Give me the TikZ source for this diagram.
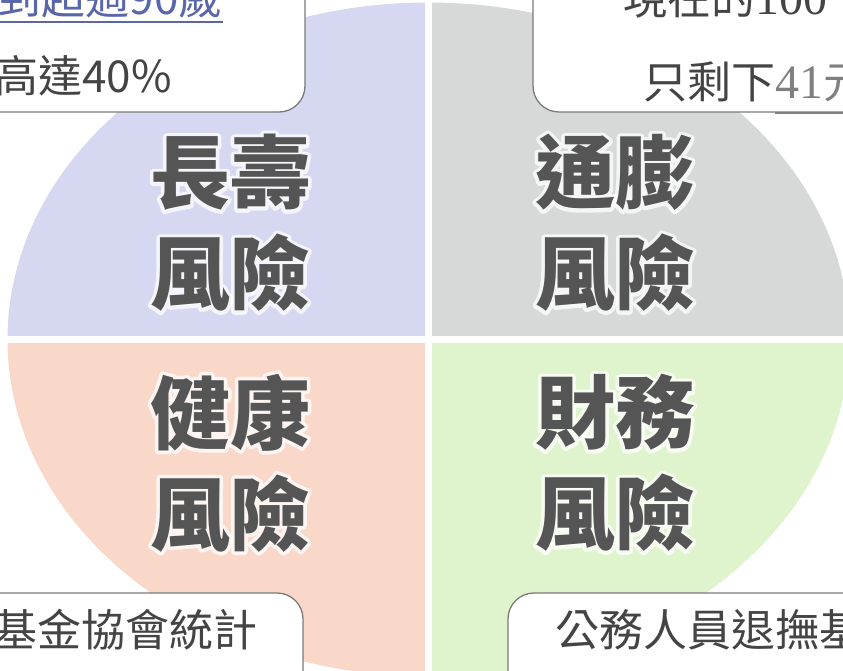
\documentclass[tikz,border=0pt]{standalone}
\usepackage{fontspec}
\setmainfont{Noto Sans CJK TC}
\newfontfamily\numfont{Liberation Serif}
\newfontfamily\halofont{Noto Sans CJK TC}[BoldFeatures={FakeBold=9}]
\definecolor{longlife}{HTML}{D6D8F2}
\definecolor{inflation}{HTML}{D7D8D8}
\definecolor{health}{HTML}{FAD8C9}
\definecolor{money}{HTML}{DFF4CD}
\definecolor{riskgray}{HTML}{555555}
\definecolor{notegray}{HTML}{444444}
\definecolor{boxgray}{HTML}{7A7A7A}
\definecolor{ulblue}{HTML}{5A66AA}
\begin{document}
\begin{tikzpicture}[x=1pt,y=-1pt,
    risk/.style={font=\fontsize{80}{101}\selectfont\bfseries, text=riskgray, align=center, inner sep=0pt},
    halo/.style={risk, font=\fontsize{80}{101}\halofont\bfseries, text=white, opacity=0.75, line join=round},
    note/.style={draw=boxgray, line width=1.3pt, fill=white, rounded corners=26pt},
    notetext/.style={font=\fontsize{44}{52}\selectfont, text=notegray, inner sep=0pt}]
    \useasboundingbox (0,0) rectangle (843,671);
    \clip (0,0) rectangle (843,671);
    \begin{scope}
        \clip (0,0) rectangle (428.5,339.5);
        \fill[longlife] (428.5,339.5) ellipse [x radius=421, y radius=337];
    \end{scope}
    \begin{scope}
        \clip (428.5,0) rectangle (843,339.5);
        \fill[inflation] (428.5,339.5) ellipse [x radius=421, y radius=337];
    \end{scope}
    \begin{scope}
        \clip (0,339.5) rectangle (428.5,671);
        \fill[health] (428.5,339.5) ellipse [x radius=421, y radius=337];
    \end{scope}
    \begin{scope}
        \clip (428.5,339.5) rectangle (843,671);
        \fill[money] (428.5,339.5) ellipse [x radius=421, y radius=337];
    \end{scope}
    \draw[white, line width=7pt] (428.5,0) -- (428.5,671);
    \draw[white, line width=7pt] (0,339.5) -- (843,339.5);

    \foreach \n/\x/\y/\t in {longrisk/230/223/長壽\\風險, inflrisk/615/223/通膨\\風險,
                             healthrisk/230/463/健康\\風險, moneyrisk/615/463/財務\\風險}{
        \begin{scope}[line join=round]
            \node[halo] at (\x,\y) {\t};
        \end{scope}
        \node[risk] (\n) at (\x,\y) {\t};
    }

    \draw[note] (-60,-60) rectangle (305,112);
    \draw[note] (533,-60) rectangle (903,112);
    \draw[note] (-60,593) rectangle (303,731);
    \draw[note] (508,593) rectangle (903,731);

    \node[notetext, text=ulblue, anchor=base east] (age) at (223,15) {到超過90歲};
    \draw[ulblue, line width=1.5pt] ([yshift=-7pt]age.base west) -- ([yshift=-7pt]age.base east);
    \node[notetext, anchor=base east] (share) at (172,93) {高達40\%};
    \node[notetext, anchor=base west] (now) at (623,15) {現在的{\numfont\fontsize{48}{52}\selectfont 100}};
    \node[notetext, anchor=base west] (left) at (643,99) {只剩下\textcolor{gray}{{\numfont\fontsize{48}{52}\selectfont 41}元}};
    \draw[gray, line width=1.5pt] (775,113) -- (843,113);
    \node[notetext, anchor=base east] (fund) at (258,646) {基金協會統計};
    \node[notetext, anchor=base west] (civil) at (555,646) {公務人員退撫基};
\end{tikzpicture}
\end{document}
